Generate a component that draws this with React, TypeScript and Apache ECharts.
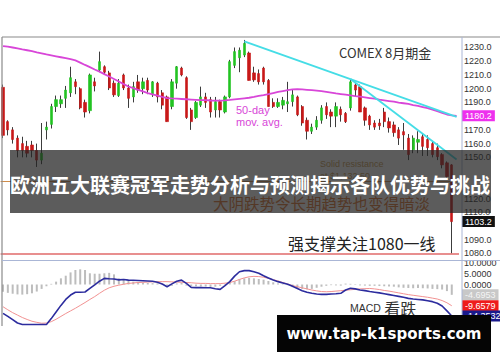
import React, { useEffect, useRef } from 'react';
import * as echarts from 'echarts';

// ---- price panel data (COMEX gold, daily) ----
const opens = [1201, 1176, 1170, 1164, 1160, 1158, 1159, 1155, 1148, 1170, 1174, 1187, 1189, 1193, 1197, 1205, 1200, 1190, 1184, 1205, 1213.6, 1216, 1211.5, 1204, 1195, 1210, 1200.5, 1194, 1205, 1200, 1206, 1195.5, 1204, 1197, 1194, 1187, 1204, 1215, 1208, 1184.5, 1179, 1188, 1194, 1192, 1184.5, 1190.6, 1183, 1194, 1217, 1222.5, 1224.5, 1226, 1211.5, 1211, 1215, 1206, 1190, 1187, 1188, 1189, 1190.6, 1194, 1187, 1177, 1169, 1172, 1177, 1187, 1183, 1180, 1185, 1182, 1186, 1202.7, 1201.5, 1186, 1180, 1175, 1175, 1183, 1176, 1173.6, 1170, 1168.7, 1164, 1155.5, 1161, 1165, 1163, 1160, 1157, 1152, 1146, 1144.5];
const closes = [1166, 1170, 1163, 1155, 1155, 1153, 1155, 1148, 1153, 1172, 1187, 1192, 1192, 1199, 1208, 1201.5, 1186, 1183, 1210, 1202, 1219.7, 1212, 1200.5, 1195.5, 1204, 1200.5, 1193, 1201.5, 1199, 1205, 1199, 1205, 1194, 1188, 1176, 1205, 1216, 1210, 1179, 1176, 1190, 1194, 1190, 1183, 1190.6, 1184.5, 1194, 1219.7, 1227, 1228, 1233, 1206, 1206.4, 1205, 1205, 1187, 1187, 1190, 1191.5, 1190.5, 1195.5, 1181, 1175, 1169, 1172, 1177, 1186, 1181, 1180, 1187, 1181, 1176, 1205, 1199, 1183, 1177, 1173.6, 1172, 1173, 1176, 1171.4, 1168, 1164, 1166.3, 1152, 1164, 1163, 1158, 1157, 1152, 1150.5, 1144.5, 1136, 1103.2];
const lows = [1164, 1166, 1160, 1150, 1150, 1150, 1150, 1143, 1145, 1163, 1171, 1183, 1186, 1186, 1194, 1196, 1185, 1179, 1182, 1198, 1212, 1210, 1199, 1194, 1194, 1199, 1186, 1190, 1197, 1196, 1196, 1194, 1190, 1185, 1176, 1185, 1200, 1209, 1178, 1170, 1178, 1186.7, 1186, 1179, 1179, 1179, 1182, 1193, 1215, 1212, 1223, 1206, 1205, 1203, 1203, 1187, 1186, 1186, 1185, 1183, 1187, 1180, 1173, 1163, 1167, 1170, 1174.5, 1178, 1172, 1172, 1176, 1175, 1184, 1194, 1183, 1173, 1170, 1170, 1170, 1172, 1168, 1165, 1159, 1155.5, 1148, 1153, 1153, 1151, 1151, 1150, 1148, 1142, 1135, 1080];
const highs = [1203, 1177, 1172, 1166, 1165, 1162, 1162, 1160, 1175, 1176, 1189, 1195, 1195, 1202, 1216, 1207, 1201, 1192, 1211, 1208, 1227, 1217, 1213, 1206, 1207, 1211, 1203, 1205, 1210, 1208, 1208, 1205.5, 1205, 1199, 1195, 1207, 1216.5, 1216, 1209, 1186, 1191, 1201.5, 1197, 1194, 1194, 1192, 1195, 1221, 1230, 1230, 1235.5, 1227, 1216, 1214, 1216, 1207, 1193, 1193, 1194, 1205, 1199, 1195, 1188, 1179, 1174.5, 1180, 1188, 1190, 1185, 1190, 1187, 1183, 1207, 1205, 1203, 1187, 1181, 1177, 1178, 1186, 1179, 1176, 1172, 1175, 1167, 1166, 1169, 1167, 1166, 1162, 1160, 1153, 1147, 1145];
const ma50 = [1231.0, 1230.6, 1230.0, 1229.3, 1228.6, 1228.0, 1227.3, 1226.5, 1225.8, 1225.0, 1224.3, 1223.6, 1222.9, 1222.2, 1221.5, 1220.6, 1219.0, 1217.3, 1215.7, 1214.0, 1212.4, 1210.6, 1208.9, 1207.1, 1205.2, 1203.3, 1201.6, 1200.4, 1199.2, 1198.0, 1196.8, 1195.8, 1194.9, 1194.0, 1193.2, 1192.9, 1192.7, 1192.5, 1192.3, 1192.1, 1191.9, 1191.7, 1191.6, 1191.4, 1191.3, 1191.3, 1191.5, 1191.8, 1192.2, 1192.6, 1193.0, 1193.4, 1194.0, 1194.7, 1195.3, 1196.0, 1196.8, 1197.6, 1198.3, 1199.0, 1199.5, 1199.6, 1199.5, 1199.2, 1198.9, 1198.6, 1198.2, 1197.7, 1197.2, 1196.6, 1196.1, 1195.6, 1195.1, 1194.6, 1194.2, 1193.7, 1193.2, 1192.7, 1192.0, 1191.5, 1191.0, 1190.5, 1189.9, 1189.4, 1188.9, 1188.1, 1187.4, 1186.6, 1185.8, 1184.8, 1183.6, 1182.4, 1181.2, 1180.6, 1180.2];
const categories = [...opens.map((_, i) => `D${i + 1}`), 'D95'];
// visible price tick labels (1100/1180 sit under value boxes, 1130/1140 under the banner)
const priceTicks = [1080, 1090, 1110, 1120, 1150, 1160, 1170, 1190, 1200, 1210, 1220, 1230];
// trend lines: [categoryIndex, price]
const upperTrend = [[50, 1234.5], [94, 1179.4]];
const lowerTrend = [[72, 1207], [94, 1148.4]];
const resistance = 1132.5;
const support = 1080;
const lastMa = 1180.2;
const lastClose = 1103.2;

// ---- MACD panel data ----
const macd = [-13.1, -14.5, -16, -17.5, -18.2, -18.2, -18.2, -18.2, -18.2, -18.2, -15.5, -12.5, -9.5, -6.8, -4.8, -3.5, -3.5, -3.4, -1.8, -0.2, 1.5, 2.8, 2.6, 2.5, 2.1, 2.3, 2.0, 1.9, 1.8, 1.7, 1.6, 1.5, 1.0, 0.2, -1.0, 0.3, 1.5, 2.0, 0.5, -1.3, -1.4, -1.4, -1.5, -1.5, -1.9, -2.2, -0.5, 1.3, 3.8, 5.8, 6.3, 6.3, 5.8, 5.1, 4.0, 3.0, 2.0, 1.3, 0.7, 0.1, -0.8, -1.8, -2.8, -3.5, -4.0, -4.3, -4.5, -4.5, -4.3, -4.2, -4.0, -2.5, -1.7, -2.0, -2.5, -2.8, -3.2, -3.5, -3.8, -4.2, -4.6, -5.0, -5.4, -5.8, -6.3, -6.6, -6.8, -7.0, -7.4, -7.8, -8.5, -9.8, -12.0, -14.35];
const signal = [-10.1, -11.5, -12.8, -13.9, -15.0, -15.9, -16.7, -17.2, -17.6, -17.5, -16.9, -15.8, -14.5, -13.2, -12.0, -10.8, -9.5, -8.2, -6.8, -5.5, -4.0, -2.6, -1.5, -0.8, -0.3, 0.1, 0.5, 0.7, 0.9, 1.0, 1.1, 1.2, 1.3, 1.3, 1.3, 1.2, 1.1, 1.0, 0.9, 0.8, 0.6, 0.5, 0.5, 0.4, 0.4, 0.4, 0.6, 0.9, 1.5, 2.3, 3.0, 3.5, 3.7, 3.6, 3.3, 2.8, 2.2, 1.6, 0.9, 0.2, -0.5, -1.0, -1.5, -2.0, -2.5, -2.9, -3.2, -3.3, -3.2, -3.0, -2.8, -2.6, -2.4, -2.2, -2.0, -1.9, -1.8, -2.0, -2.3, -2.7, -3.0, -3.4, -3.8, -4.2, -4.6, -4.9, -5.2, -5.5, -5.8, -6.2, -6.6, -7.3, -8.3, -9.66];
const histogram = [-3.3, -3.8, -4.2, -4.5, -4.6, -4.4, -4.0, -3.2, -2.0, -0.8, 0.3, 1.3, 2.8, 4.0, 5.5, 6.6, 6.9, 6.6, 5.1, 4.9, 4.9, 5.1, 5.3, 4.6, 2.8, 2.2, 1.7, 1.3, 1.0, 0.8, 0.7, 0.6, 0.5, 0.3, -0.4, -0.6, 0.5, 0.8, -0.5, -0.7, -0.8, -0.9, -1.0, -1.1, -1.0, -0.6, 0.2, 0.9, 1.5, 2.4, 2.8, 3.0, 2.8, 2.5, 2.2, 1.6, 1.0, 0.5, 0.2, -0.3, -1.2, -1.6, -2.0, -2.2, -2.0, -1.5, -1.0, -0.6, -0.3, -0.4, -0.5, 0.4, 0.3, -0.2, -0.4, -0.5, -0.6, -0.6, -0.7, -0.8, -0.9, -1.0, -1.3, -1.5, -1.6, -1.7, -1.6, -1.7, -1.8, -2.0, -2.1, -2.3, -3.0, -4.7];
const macdTicks = [0, 5, 10];
const lastHist = -4.6953;
const lastSignal = -9.6579;
const lastMacd = -14.3532;

const TITLE = '欧洲五大联赛冠军走势分析与预测揭示各队优势与挑战';
const CJK = '"Noto Sans CJK SC", "Noto Sans", sans-serif';
const NUM = '"Liberation Sans", Arial, sans-serif';

function boxLabel(text: string, bg: string, color = '#fff') {
  return {
    show: true,
    position: 'end',
    distance: 3,
    formatter: text,
    backgroundColor: bg,
    color,
    padding: [1, 3, 1, 3],
    fontSize: 9,
    fontFamily: NUM,
  };
}

export default function App() {
  const ref = useRef<HTMLDivElement>(null);
  useEffect(() => {
    if (!ref.current) return;
    const chart = echarts.init(ref.current, null, { renderer: 'svg' });
    const wickData = opens.map((o, i) => [o, closes[i], lows[i], highs[i]]);
    const bodyData = opens.map((o, i) => [o, closes[i], Math.min(o, closes[i]), Math.max(o, closes[i])]);
    const option: any = {
      animation: false,
      backgroundColor: '#ffffff',
      grid: [
        { left: 0.6, width: 458.4, top: 33.77, height: 233.4 },
        { left: 0.6, width: 458.4, top: 251.5, height: 77 },
      ],
      xAxis: [
        { type: 'category', data: categories, gridIndex: 0, show: false },
        { type: 'category', data: categories, gridIndex: 1, show: false },
      ],
      yAxis: [
        {
          type: 'value', gridIndex: 0, position: 'right', min: 1070, max: 1240, interval: 10,
          axisLine: { show: false }, axisTick: { show: false }, splitLine: { show: false },
          axisLabel: {
            margin: 5, fontSize: 9, color: '#333', fontFamily: NUM,
            formatter: (v: number) => (priceTicks.includes(v) ? v.toFixed(1) : ''),
          },
        },
        {
          type: 'value', gridIndex: 1, position: 'right', min: -20, max: 15, interval: 5,
          axisLine: { show: false }, axisTick: { show: false }, splitLine: { show: false },
          axisLabel: {
            margin: 5, fontSize: 9, color: '#333', fontFamily: NUM,
            formatter: (v: number) => (macdTicks.includes(v) ? v.toFixed(4) : ''),
          },
        },
      ],
      series: [
        {
          type: 'candlestick', name: 'wick', xAxisIndex: 0, yAxisIndex: 0, silent: true,
          data: wickData, barWidth: 1,
          itemStyle: { color: '#3c3c3c', color0: '#3c3c3c', borderColor: '#3c3c3c', borderColor0: '#3c3c3c', borderWidth: 1 },
          z: 3,
        },
        {
          type: 'candlestick', name: 'body', xAxisIndex: 0, yAxisIndex: 0, silent: true,
          data: bodyData, barWidth: 2.8,
          itemStyle: { color: '#22c322', color0: '#c81818', borderColor: '#22c322', borderColor0: '#c81818', borderWidth: 0.6 },
          z: 4,
        },
        {
          type: 'line', name: 'MA50', xAxisIndex: 0, yAxisIndex: 0, data: ma50, symbol: 'none', silent: true,
          lineStyle: { color: '#d846d8', width: 1.8 }, z: 5,
          markLine: {
            silent: true, symbol: ['none', 'none'],
            data: [
              { yAxis: support, lineStyle: { color: '#e06a6a', width: 1.6, type: 'solid' }, label: { show: false } },
              { yAxis: resistance, lineStyle: { color: '#cf8c4a', width: 1, type: 'solid' }, label: { show: false } },
              { yAxis: lastMa, lineStyle: { color: 'transparent', width: 0 }, label: boxLabel(String(lastMa), '#ee30ee') },
              { yAxis: lastClose, lineStyle: { color: 'transparent', width: 0 }, label: boxLabel(String(lastClose), '#111111') },
            ],
          },
        },
        {
          type: 'line', name: 'trend1', xAxisIndex: 0, yAxisIndex: 0, data: upperTrend, symbol: 'none', silent: true,
          lineStyle: { color: '#45dde6', width: 1.8 }, z: 6,
        },
        {
          type: 'line', name: 'trend2', xAxisIndex: 0, yAxisIndex: 0, data: lowerTrend, symbol: 'none', silent: true,
          lineStyle: { color: '#45dde6', width: 1.8 }, z: 6,
        },
        {
          type: 'bar', name: 'hist', xAxisIndex: 1, yAxisIndex: 1, data: histogram, barWidth: 2, silent: true,
          itemStyle: { color: '#bdbdbd' }, z: 2,
          markLine: {
            silent: true, symbol: ['none', 'none'],
            data: [{ yAxis: lastHist, lineStyle: { color: 'transparent', width: 0 }, label: boxLabel(String(lastHist), '#c8c8c8', '#f4f4f4') }],
          },
        },
        {
          type: 'line', name: 'signal', xAxisIndex: 1, yAxisIndex: 1, data: signal, symbol: 'none', silent: true,
          lineStyle: { color: '#f29292', width: 1 }, z: 3,
          markLine: {
            silent: true, symbol: ['none', 'none'],
            data: [{ yAxis: lastSignal, lineStyle: { color: 'transparent', width: 0 }, label: boxLabel(String(lastSignal), '#ee1c1c') }],
          },
        },
        {
          type: 'line', name: 'macd', xAxisIndex: 1, yAxisIndex: 1, data: macd, symbol: 'none', silent: true,
          lineStyle: { color: '#2c2c9e', width: 1.6 }, z: 4,
          markLine: {
            silent: true, symbol: ['none', 'none'],
            data: [{ yAxis: lastMacd, lineStyle: { color: 'transparent', width: 0 }, label: boxLabel(String(lastMacd), '#1a1a8c') }],
          },
        },
      ],
      graphic: {
        elements: [
          // frame
          { type: 'line', z: 20, shape: { x1: 2, y1: 37, x2: 500, y2: 37 }, style: { stroke: '#8a8a8a', lineWidth: 1.2 } },
          { type: 'line', z: 20, shape: { x1: 2, y1: 37, x2: 2, y2: 326 }, style: { stroke: '#8a8a8a', lineWidth: 1.2 } },
          { type: 'rect', z: 19, shape: { x: 463, y: 258.3, width: 37, height: 2.2 }, style: { fill: '#ffffff' } },
          { type: 'line', z: 20, shape: { x1: 2, y1: 260.5, x2: 500, y2: 260.5 }, style: { stroke: '#aab6d6', lineWidth: 1 } },
          { type: 'line', z: 20, shape: { x1: 462, y1: 37, x2: 462, y2: 326 }, style: { stroke: '#aab6d6', lineWidth: 1 } },
          // annotations
          { type: 'text', z: 20, x: 339, y: 52.5, style: { text: 'COMEX 8月期金', font: `13px ${CJK}`, fill: '#333', textVerticalAlign: 'middle' } },
          { type: 'text', z: 20, x: 236, y: 110, style: { text: '50-day', font: `11px ${NUM}`, fill: '#d846d8', textVerticalAlign: 'middle' } },
          { type: 'text', z: 20, x: 236, y: 122, style: { text: 'mov. avg.', font: `11px ${NUM}`, fill: '#d846d8', textVerticalAlign: 'middle' } },
          { type: 'text', z: 20, x: 320, y: 164, style: { text: 'Solid resistance', font: `9px ${NUM}`, fill: '#c89a50', textVerticalAlign: 'middle' } },
          { type: 'text', z: 20, x: 320, y: 176, style: { text: 'at $1,132.50', font: `9px ${NUM}`, fill: '#c89a50', textVerticalAlign: 'middle' } },
          { type: 'text', z: 20, x: 213, y: 202.5, style: { text: '大阴跌势令长期趋势也变得暗淡', font: `15.5px ${CJK}`, fill: '#e0742e', textVerticalAlign: 'middle' } },
          { type: 'text', z: 20, x: 288, y: 242.5, style: { text: '强支撑关注1080一线', font: `16px ${CJK}`, fill: '#222', textVerticalAlign: 'middle' } },
          {
            type: 'text', z: 20, x: 350, y: 308,
            style: {
              text: '{a|MACD} {b|看跌}', fill: '#333', textVerticalAlign: 'middle',
              rich: { a: { fontSize: 10.5, fontFamily: NUM, fill: '#333' }, b: { fontSize: 16, fontFamily: CJK, fill: '#333' } },
            },
          },
          // title banner
          { type: 'rect', z: 100, shape: { x: 10, y: 150, width: 481, height: 63 }, style: { fill: 'rgba(35,35,35,0.74)' } },
          {
            type: 'text', z: 101, x: 250, y: 184,
            style: { text: TITLE, font: `bold 20px ${CJK}`, fill: '#ffffff', textAlign: 'center', textVerticalAlign: 'middle' },
          },
          // watermark
          { type: 'rect', z: 100, shape: { x: 277, y: 315, width: 214, height: 37 }, style: { fill: '#050505' } },
          {
            type: 'text', z: 101, x: 384, y: 334,
            style: { text: 'www.tap-k1sports.com', font: `bold 15px "DejaVu Sans", sans-serif`, fill: '#ffffff', textAlign: 'center', textVerticalAlign: 'middle' },
          },
        ],
      },
    };
    chart.setOption(option);
    return () => chart.dispose();
  }, []);
  return <div ref={ref} style={{ position: 'fixed', left: 0, top: 0, width: 500, height: 362 }} />;
}
